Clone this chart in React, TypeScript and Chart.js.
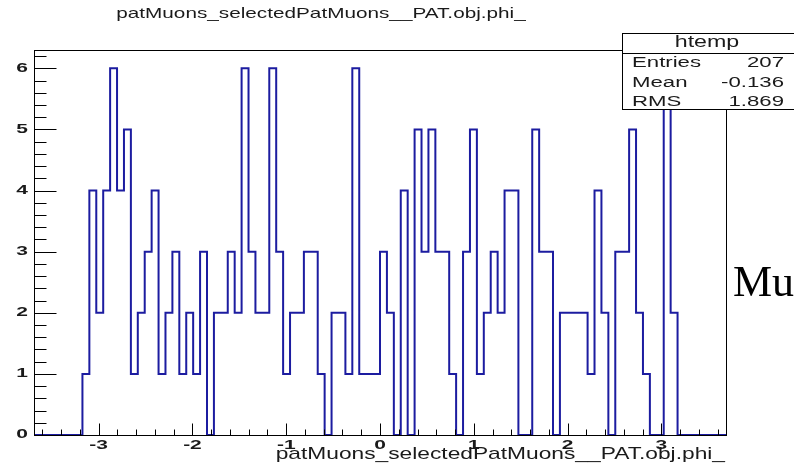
import React, { useEffect, useRef } from "react";
import { Chart, registerables } from "chart.js";

Chart.register(...registerables);

// ---- data ----
const X_MIN = -3.69;
const X_MAX = 3.69;
const N_BINS = 100;
const COUNTS = [
  0, 0, 0, 0, 0, 0, 0, 1, 4, 2,
  4, 6, 4, 5, 1, 2, 3, 4, 1, 2,
  3, 1, 2, 1, 3, 0, 2, 2, 3, 2,
  6, 3, 2, 2, 6, 3, 1, 2, 2, 3,
  3, 1, 0, 2, 2, 1, 6, 1, 1, 1,
  3, 2, 0, 4, 0, 5, 3, 5, 3, 3,
  1, 0, 3, 5, 1, 2, 3, 2, 4, 4,
  0, 0, 5, 3, 3, 0, 2, 2, 2, 2,
  1, 4, 2, 0, 3, 3, 5, 2, 1, 0,
  0, 6, 2, 0, 0, 0, 0, 0, 0, 0,
];
const Y_MAX = 6.3;
const X_TICK_LABELS = [-3, -2, -1, 0, 1, 2, 3];
const Y_TICK_LABELS = [0, 1, 2, 3, 4, 5, 6];
const MINOR_STEP = 0.2;
const TITLE = "patMuons_selectedPatMuons__PAT.obj.phi_";
const X_TITLE = "patMuons_selectedPatMuons__PAT.obj.phi_";
const STATS_NAME = "htemp";
const STATS_LABELS = ["Entries", "Mean", "RMS"];
const STATS_VALUES = ["207", "-0.136", "1.869"];
const SIDE_TEXT = "Mu";

const LINE_COLOR = "rgb(28,28,160)";
const SANS = '"Liberation Sans", Arial, sans-serif';

function drawText(
  ctx: CanvasRenderingContext2D,
  text: string,
  x: number,
  y: number,
  align: CanvasTextAlign,
  font: string,
  sx: number,
  baseline: CanvasTextBaseline = "alphabetic"
) {
  ctx.save();
  ctx.translate(x, y);
  ctx.scale(sx, 1);
  ctx.font = font;
  ctx.textAlign = align;
  ctx.textBaseline = baseline;
  ctx.fillText(text, 0, 0);
  ctx.restore();
}

const rootPlugin = {
  id: "rootFrame",
  beforeDraw(chart: any) {
    const ctx = chart.ctx as CanvasRenderingContext2D;
    ctx.save();
    ctx.fillStyle = "#fff";
    ctx.fillRect(0, 0, chart.width, chart.height);
    ctx.restore();
  },
  afterDraw(chart: any) {
    const ctx = chart.ctx as CanvasRenderingContext2D;
    const { left, right, top, bottom } = chart.chartArea;
    const xs = chart.scales.x;
    const ys = chart.scales.y;
    const r = (v: number) => Math.round(v) + 0.5;
    ctx.save();
    ctx.strokeStyle = "#000";
    ctx.lineWidth = 1;
    // frame
    ctx.strokeRect(r(left), r(top), Math.round(right - left), Math.round(bottom - top));

    // y ticks
    ctx.beginPath();
    for (let k = 0; k * MINOR_STEP <= Y_MAX + 1e-9; k++) {
      const v = k * MINOR_STEP;
      const py = r(ys.getPixelForValue(v));
      const major = k % 5 === 0;
      ctx.moveTo(r(left), py);
      ctx.lineTo(r(left) + (major ? 22 : 12), py);
    }
    // x ticks
    const kMax = Math.floor(X_MAX / MINOR_STEP + 1e-9);
    for (let k = -kMax; k <= kMax; k++) {
      const v = k * MINOR_STEP;
      const px = r(xs.getPixelForValue(v));
      const major = k % 5 === 0;
      ctx.moveTo(px, r(bottom));
      ctx.lineTo(px, r(bottom) - (major ? 12 : 6));
    }
    ctx.stroke();

    // tick labels
    ctx.fillStyle = "#1a1a1a";
    const tickFont = `bold 12px ${SANS}`;
    for (const v of Y_TICK_LABELS) {
      drawText(ctx, String(v), left - 6, ys.getPixelForValue(v), "right", tickFont, 1.75, "middle");
    }
    for (const v of X_TICK_LABELS) {
      drawText(ctx, String(v), xs.getPixelForValue(v), bottom + 11, "center", tickFont, 1.75, "middle");
    }

    // titles
    drawText(ctx, TITLE, 321, 18, "center", `14.3px ${SANS}`, 1.45);
    drawText(ctx, X_TITLE, 725, 459, "right", `15.7px ${SANS}`, 1.45);

    // stats box
    const bx = 622, by = 33, bw = 190, bh = 76;
    ctx.fillStyle = "#fff";
    ctx.fillRect(bx, by, bw, bh);
    ctx.strokeRect(bx + 0.5, by + 0.5, bw, bh);
    ctx.beginPath();
    ctx.moveTo(bx, 53.5);
    ctx.lineTo(bx + bw, 53.5);
    ctx.stroke();
    ctx.fillStyle = "#1a1a1a";
    drawText(ctx, STATS_NAME, 707, 47, "center", `16px ${SANS}`, 1.45);
    const rowsY = [67, 86.5, 105.5];
    STATS_LABELS.forEach((lab, i) => {
      drawText(ctx, lab, 632, rowsY[i], "left", `15.3px ${SANS}`, 1.45);
      drawText(ctx, STATS_VALUES[i], 784, rowsY[i], "right", `15.3px ${SANS}`, 1.45);
    });

    // side text from the surrounding page
    ctx.fillStyle = "#000";
    drawText(ctx, SIDE_TEXT, 733, 296, "left", `44px "Liberation Serif", "Times New Roman", serif`, 1);
    ctx.restore();
  },
};

export default function App() {
  const ref = useRef<HTMLCanvasElement | null>(null);
  useEffect(() => {
    if (!ref.current) return;
    const binW = (X_MAX - X_MIN) / N_BINS;
    const points = COUNTS.map((c, i) => ({ x: X_MIN + i * binW, y: c }));
    points.push({ x: X_MAX, y: COUNTS[N_BINS - 1] });
    const chart = new Chart(ref.current, {
      type: "line",
      data: {
        datasets: [
          {
            data: points,
            stepped: true,
            borderColor: LINE_COLOR,
            borderWidth: 2,
            pointRadius: 0,
            fill: false,
            clip: false as any,
          } as any,
        ],
      },
      options: {
        animation: false,
        responsive: false,
        events: [],
        layout: { padding: { left: 34, right: 68, top: 50, bottom: 33 } },
        plugins: { legend: { display: false }, tooltip: { enabled: false } },
        scales: {
          x: { type: "linear", min: X_MIN, max: X_MAX, display: false },
          y: { type: "linear", min: 0, max: Y_MAX, display: false },
        },
      },
      plugins: [rootPlugin as any],
    });
    return () => chart.destroy();
  }, []);
  return (
    <div style={{ position: "absolute", left: 0, top: 0, width: 794, height: 468 }}>
      <canvas ref={ref} width={794} height={468} style={{ display: "block" }} />
    </div>
  );
}
